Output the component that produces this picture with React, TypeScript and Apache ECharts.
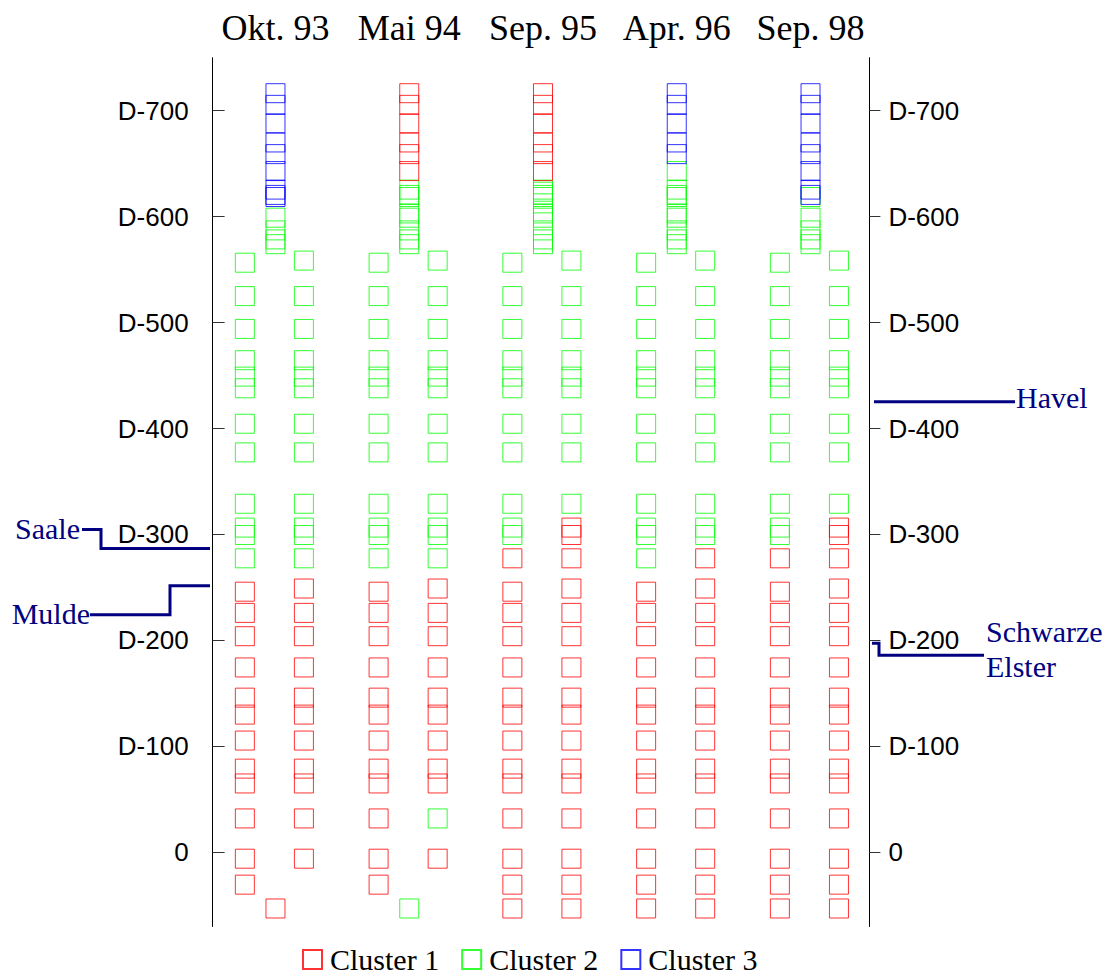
import React, { useEffect, useRef } from 'react';
import * as echarts from 'echarts';

// Sampling dates (top labels)
const dates = ['Okt. 93', 'Mai 94', 'Sep. 95', 'Apr. 96', 'Sep. 98'];

// Y-axis tick values (river km, shown as "D-xxx")
const yTicks = [0, 100, 200, 300, 400, 500, 600, 700];

// Station positions (km) of the left-hand, right-hand and middle columns
const leftKm = [556.5, 525, 494, 464.5, 449, 438, 404.5, 377.5, 329, 306.5, 299.5, 277.5, 246, 226, 204, 174.5, 146, 130, 105.5, 79, 65, 32, -6, -30.5, -53];
const rightKm = [558.5, 525, 494, 464.5, 449, 438, 404.5, 377.5, 329, 306.5, 299.5, 277.5, 249, 226, 204, 174.5, 146, 130, 105.5, 79, 65, 32, -6, -30.5, -53];
const midKm = [716.5, 705.5, 688, 670, 659, 643, 625.5, 623.5, 620.5, 618.5, 612.5, 603, 599, 587, 578.5, 574, -53];

// Cluster membership per date (0 = not sampled)
const okt93Left = [2, 2, 2, 2, 2, 2, 2, 2, 2, 2, 2, 2, 1, 1, 1, 1, 1, 1, 1, 1, 1, 1, 1, 1, 0];
const okt93Right = [2, 2, 2, 2, 2, 2, 2, 2, 2, 2, 2, 2, 1, 1, 1, 1, 1, 1, 1, 1, 1, 1, 1, 0, 0];
const okt93Mid = [3, 3, 3, 3, 3, 3, 3, 0, 3, 3, 0, 0, 2, 2, 2, 2, 1];

const mai94Left = [2, 2, 2, 2, 2, 2, 2, 2, 2, 2, 2, 2, 1, 1, 1, 1, 1, 1, 1, 1, 1, 1, 1, 1, 0];
const mai94Right = [2, 2, 2, 2, 2, 2, 2, 2, 2, 2, 2, 2, 1, 1, 1, 1, 1, 1, 1, 1, 1, 2, 1, 0, 0];
const mai94Mid = [1, 1, 1, 1, 1, 1, 2, 0, 2, 2, 0, 2, 2, 2, 2, 2, 2];

const sep95Left = [2, 2, 2, 2, 2, 2, 2, 2, 2, 2, 2, 1, 1, 1, 1, 1, 1, 1, 1, 1, 1, 1, 1, 1, 1];
const sep95Right = [2, 2, 2, 2, 2, 2, 2, 2, 2, 1, 1, 1, 1, 1, 1, 1, 1, 1, 1, 1, 1, 1, 1, 1, 1];
const sep95Mid = [1, 1, 1, 1, 1, 1, 2, 2, 2, 2, 2, 2, 2, 2, 2, 2, 0];

const apr96Left = [2, 2, 2, 2, 2, 2, 2, 2, 2, 2, 2, 2, 1, 1, 1, 1, 1, 1, 1, 1, 1, 1, 1, 1, 1];
const apr96Right = [2, 2, 2, 2, 2, 2, 2, 2, 2, 2, 2, 1, 1, 1, 1, 1, 1, 1, 1, 1, 1, 1, 1, 1, 1];
const apr96Mid = [3, 3, 3, 3, 3, 2, 2, 0, 2, 2, 0, 2, 2, 2, 2, 2, 0];

const sep98Left = [2, 2, 2, 2, 2, 2, 2, 2, 2, 2, 2, 1, 1, 1, 1, 1, 1, 1, 1, 1, 1, 1, 1, 1, 1];
const sep98Right = [2, 2, 2, 2, 2, 2, 2, 2, 2, 1, 1, 1, 1, 1, 1, 1, 1, 1, 1, 1, 1, 1, 1, 1, 1];
const sep98Mid = [3, 3, 3, 3, 3, 3, 3, 0, 3, 2, 0, 0, 2, 2, 2, 2, 0];

const leftByDate = [okt93Left, mai94Left, sep95Left, apr96Left, sep98Left];
const rightByDate = [okt93Right, mai94Right, sep95Right, apr96Right, sep98Right];
const midByDate = [okt93Mid, mai94Mid, sep95Mid, apr96Mid, sep98Mid];

const clusterNames = ['Cluster 1', 'Cluster 2', 'Cluster 3'];
const clusterColors = ['#ff0000', '#00ff00', '#0000ff'];

// Tributary mouths (km)
const saaleKm = 286.7;
const muldeKm = 251.6;
const havelKm = 425.3;
const elsterKm = 197.3;

const LEFT_OFF = -0.229;
const RIGHT_OFF = 0.2125;

function buildData(cluster: number) {
  const out: number[][] = [];
  dates.forEach((_, d) => {
    leftByDate[d].forEach((c, i) => { if (c === cluster) out.push([d + LEFT_OFF, leftKm[i]]); });
    rightByDate[d].forEach((c, i) => { if (c === cluster) out.push([d + RIGHT_OFF, rightKm[i]]); });
    midByDate[d].forEach((c, i) => { if (c === cluster) out.push([d, midKm[i]]); });
  });
  return out;
}

const serif = 'Liberation Serif, Times New Roman, serif';
const sans = 'Liberation Sans, Arial, sans-serif';

export default function App() {
  const ref = useRef<HTMLDivElement>(null);
  useEffect(() => {
    const chart = echarts.init(ref.current!, null, { renderer: 'svg' });
    const mkSeries = (idx: number) => ({
      name: clusterNames[idx],
      type: 'scatter',
      xAxisIndex: 0,
      yAxisIndex: 0,
      symbol: 'rect',
      symbolSize: 19,
      silent: true,
      itemStyle: { color: 'transparent', borderColor: clusterColors[idx], borderWidth: 1 },
      emphasis: { disabled: true },
      data: buildData(idx + 1),
    });
    const yLabelFmt = (v: number) => (v === 0 ? '0' : 'D-' + v);
    chart.setOption({
      animation: false,
      grid: { left: 208.6, right: 231.6, top: 57.7, bottom: 48.5, containLabel: false, outerBoundsMode: 'none' },
      xAxis: [
        { type: 'value', min: -0.5, max: 4.5, show: false },
        {
          type: 'category',
          position: 'top',
          data: dates,
          boundaryGap: true,
          axisLine: { show: false },
          axisTick: { show: false },
          axisLabel: { fontFamily: serif, fontSize: 36, color: '#000', margin: 12, interval: 0, hideOverlap: false },
        },
      ],
      yAxis: [
        {
          type: 'value', min: -70, max: 750, position: 'left', offset: -4,
          splitLine: { show: false },
          axisLine: { show: true, onZero: false, lineStyle: { color: '#000', width: 1 } },
          axisTick: { show: true, inside: true, length: 12, lineStyle: { color: '#333' }, customValues: yTicks },
          axisLabel: { fontFamily: sans, fontSize: 26, color: '#000', margin: 24, formatter: yLabelFmt, customValues: yTicks },
        },
        {
          type: 'value', min: -70, max: 750, position: 'right', offset: -8,
          splitLine: { show: false },
          axisLine: { show: true, onZero: false, lineStyle: { color: '#000', width: 1 } },
          axisTick: { show: true, inside: false, length: 11, lineStyle: { color: '#333' }, customValues: yTicks },
          axisLabel: { fontFamily: sans, fontSize: 26, color: '#000', margin: 19, formatter: yLabelFmt, customValues: yTicks },
        },
      ],
      legend: {
        data: clusterNames,
        left: 302,
        top: 944,
        padding: 0,
        itemWidth: 19,
        itemHeight: 19,
        itemGap: 22,
        icon: 'rect',
        textStyle: { fontFamily: serif, fontSize: 30, lineHeight: 31, color: '#000', padding: [0, 0, 0, 3] },
        selectedMode: false,
      },
      series: [mkSeries(1), mkSeries(0), mkSeries(2)],
    });

    const yp = (v: number) => chart.convertToPixel({ yAxisIndex: 0 }, v) as number;
    const navy = '#000080';
    const lineStyle = { stroke: navy, lineWidth: 3, fill: null };
    const txt = (text: string, x: number, y: number, align: string) => ({
      type: 'text',
      style: { text, x, y, fill: navy, font: '30px ' + serif, textAlign: align, textVerticalAlign: 'middle', lineHeight: 35 },
    });
    const ys = yp(saaleKm);
    const ym = yp(muldeKm);
    const yh = yp(havelKm);
    const ye = yp(elsterKm);
    chart.setOption({
      graphic: [
        { type: 'polyline', shape: { points: [[210, ys], [101, ys], [101, ys - 19], [82, ys - 19]] }, style: lineStyle },
        txt('Saale', 80, ys - 20, 'right'),
        { type: 'polyline', shape: { points: [[210, ym], [170, ym], [170, ym + 29], [90, ym + 29]] }, style: lineStyle },
        txt('Mulde', 90, ym + 28, 'right'),
        { type: 'polyline', shape: { points: [[874, yh], [1015, yh]] }, style: lineStyle },
        txt('Havel', 1016, yh - 4, 'left'),
        { type: 'polyline', shape: { points: [[872, ye], [879, ye], [879, ye + 12], [984, ye + 12]] }, style: lineStyle },
        txt('Schwarze\nElster', 986, ye + 6, 'left'),
      ],
    });
    return () => chart.dispose();
  }, []);
  return <div ref={ref} style={{ position: 'absolute', left: 0, top: 0, width: 1109, height: 975 }} />;
}
